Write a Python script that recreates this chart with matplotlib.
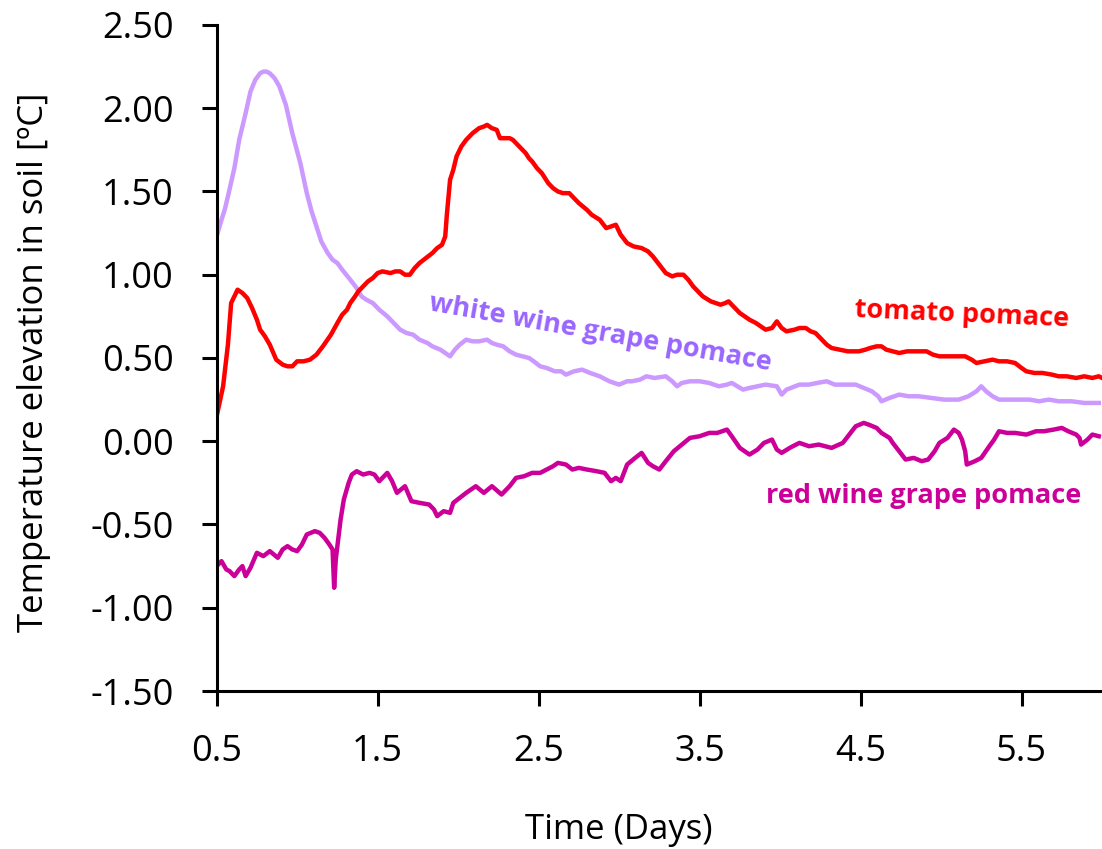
import matplotlib
matplotlib.use("Agg")
import matplotlib.pyplot as plt

plt.rcParams['font.family'] = ['Open Sans', 'DejaVu Sans']

# tomato pomace
tomato_days = [0.50, 0.54, 0.57, 0.59, 0.63, 0.66, 0.69, 0.72, 0.75, 0.77, 0.80, 0.83, 0.87, 0.91, 0.94,
               0.97, 1.00, 1.04, 1.08, 1.12, 1.16, 1.21, 1.25, 1.28, 1.31, 1.33, 1.36, 1.38, 1.41, 1.44,
               1.47, 1.50, 1.53, 1.58, 1.61, 1.64, 1.67, 1.70, 1.73, 1.76, 1.80, 1.84, 1.87, 1.90, 1.92,
               1.93, 1.95, 1.97, 1.99, 2.02, 2.05, 2.09, 2.13, 2.16, 2.18, 2.21, 2.24, 2.26, 2.29, 2.32,
               2.34, 2.36, 2.39, 2.42, 2.44, 2.46, 2.49, 2.52, 2.56, 2.59, 2.62, 2.65, 2.69, 2.72, 2.75,
               2.80, 2.83, 2.88, 2.92, 2.95, 2.98, 3.01, 3.05, 3.09, 3.14, 3.18, 3.21, 3.25, 3.29, 3.33,
               3.36, 3.40, 3.43, 3.46, 3.49, 3.52, 3.57, 3.60, 3.63, 3.66, 3.68, 3.72, 3.75, 3.78, 3.81,
               3.85, 3.88, 3.91, 3.95, 3.98, 4.01, 4.04, 4.09, 4.12, 4.16, 4.19, 4.22, 4.25, 4.29, 4.32,
               4.37, 4.42, 4.46, 4.49, 4.53, 4.56, 4.60, 4.63, 4.66, 4.70, 4.74, 4.79, 4.83, 4.88, 4.91,
               4.95, 4.99, 5.04, 5.08, 5.12, 5.15, 5.19, 5.22, 5.27, 5.32, 5.36, 5.41, 5.46, 5.50, 5.53,
               5.58, 5.63, 5.69, 5.73, 5.78, 5.84, 5.89, 5.94, 5.98, 6.00]
tomato_temp = [0.15, 0.33, 0.58, 0.83, 0.91, 0.89, 0.86, 0.80, 0.73, 0.67, 0.63, 0.58, 0.49, 0.46, 0.45,
               0.45, 0.48, 0.48, 0.49, 0.52, 0.57, 0.64, 0.71, 0.76, 0.79, 0.83, 0.87, 0.90, 0.93, 0.96,
               0.98, 1.01, 1.02, 1.01, 1.02, 1.02, 1.00, 1.00, 1.04, 1.07, 1.10, 1.13, 1.16, 1.18, 1.23,
               1.36, 1.57, 1.63, 1.71, 1.77, 1.81, 1.85, 1.88, 1.89, 1.90, 1.88, 1.87, 1.82, 1.82, 1.82,
               1.81, 1.79, 1.76, 1.73, 1.70, 1.68, 1.64, 1.61, 1.55, 1.52, 1.50, 1.49, 1.49, 1.46, 1.43,
               1.39, 1.36, 1.33, 1.28, 1.29, 1.30, 1.24, 1.19, 1.17, 1.16, 1.14, 1.11, 1.06, 1.01, 0.99,
               1.00, 1.00, 0.97, 0.93, 0.90, 0.87, 0.84, 0.83, 0.82, 0.83, 0.84, 0.80, 0.77, 0.75, 0.73,
               0.71, 0.69, 0.67, 0.68, 0.72, 0.68, 0.66, 0.67, 0.68, 0.68, 0.66, 0.65, 0.62, 0.58, 0.56,
               0.55, 0.54, 0.54, 0.54, 0.55, 0.56, 0.57, 0.57, 0.55, 0.54, 0.53, 0.54, 0.54, 0.54, 0.54,
               0.52, 0.51, 0.51, 0.51, 0.51, 0.51, 0.49, 0.47, 0.48, 0.49, 0.48, 0.48, 0.47, 0.44, 0.42,
               0.41, 0.41, 0.40, 0.39, 0.39, 0.38, 0.39, 0.38, 0.39, 0.38]

# white wine grape pomace
white_days = [0.50, 0.53, 0.55, 0.57, 0.61, 0.64, 0.68, 0.71, 0.74, 0.77, 0.79, 0.81, 0.83, 0.86, 0.89,
              0.93, 0.97, 1.02, 1.06, 1.09, 1.12, 1.15, 1.19, 1.22, 1.25, 1.28, 1.33, 1.37, 1.40, 1.43,
              1.47, 1.51, 1.56, 1.59, 1.64, 1.68, 1.72, 1.76, 1.81, 1.84, 1.89, 1.92, 1.95, 1.98, 2.01,
              2.05, 2.09, 2.13, 2.18, 2.21, 2.24, 2.28, 2.32, 2.36, 2.40, 2.44, 2.47, 2.51, 2.55, 2.60,
              2.64, 2.67, 2.72, 2.77, 2.82, 2.88, 2.94, 3.00, 3.05, 3.08, 3.13, 3.17, 3.22, 3.29, 3.33,
              3.36, 3.39, 3.44, 3.50, 3.56, 3.62, 3.67, 3.70, 3.77, 3.81, 3.86, 3.91, 3.98, 4.01, 4.04,
              4.12, 4.18, 4.23, 4.29, 4.34, 4.40, 4.47, 4.52, 4.57, 4.61, 4.63, 4.68, 4.74, 4.80, 4.86,
              4.94, 5.02, 5.11, 5.17, 5.22, 5.25, 5.28, 5.32, 5.36, 5.46, 5.55, 5.61, 5.67, 5.73, 5.81,
              5.89, 5.98]
white_temp = [1.23, 1.33, 1.39, 1.47, 1.64, 1.81, 1.97, 2.10, 2.17, 2.21, 2.22, 2.22, 2.21, 2.18, 2.13,
              2.02, 1.85, 1.67, 1.49, 1.38, 1.29, 1.20, 1.13, 1.09, 1.07, 1.03, 0.97, 0.92, 0.87, 0.85,
              0.83, 0.79, 0.75, 0.72, 0.67, 0.65, 0.64, 0.61, 0.59, 0.57, 0.55, 0.53, 0.51, 0.55, 0.58,
              0.61, 0.60, 0.60, 0.61, 0.59, 0.58, 0.57, 0.54, 0.52, 0.51, 0.50, 0.48, 0.45, 0.44, 0.42,
              0.42, 0.40, 0.42, 0.43, 0.41, 0.39, 0.36, 0.34, 0.36, 0.36, 0.37, 0.39, 0.38, 0.39, 0.36,
              0.33, 0.35, 0.36, 0.36, 0.35, 0.33, 0.34, 0.35, 0.31, 0.32, 0.33, 0.34, 0.33, 0.28, 0.31,
              0.34, 0.34, 0.35, 0.36, 0.34, 0.34, 0.34, 0.32, 0.30, 0.27, 0.24, 0.26, 0.28, 0.27, 0.27,
              0.26, 0.25, 0.25, 0.27, 0.30, 0.33, 0.30, 0.27, 0.25, 0.25, 0.25, 0.24, 0.25, 0.24, 0.24,
              0.23, 0.23]

# red wine grape pomace
red_days = [0.50, 0.53, 0.56, 0.58, 0.61, 0.64, 0.66, 0.68, 0.71, 0.75, 0.79, 0.83, 0.88, 0.91, 0.94,
            0.97, 1.00, 1.03, 1.06, 1.11, 1.14, 1.17, 1.20, 1.22, 1.23, 1.24, 1.27, 1.29, 1.32, 1.34,
            1.37, 1.41, 1.45, 1.48, 1.51, 1.56, 1.59, 1.62, 1.67, 1.71, 1.76, 1.82, 1.85, 1.87, 1.91,
            1.95, 1.97, 2.01, 2.05, 2.11, 2.16, 2.21, 2.27, 2.32, 2.36, 2.41, 2.46, 2.51, 2.55, 2.59,
            2.62, 2.67, 2.71, 2.75, 2.80, 2.86, 2.91, 2.95, 2.98, 3.01, 3.05, 3.10, 3.14, 3.18, 3.21,
            3.25, 3.29, 3.34, 3.39, 3.44, 3.50, 3.56, 3.61, 3.67, 3.70, 3.75, 3.81, 3.86, 3.90, 3.95,
            3.98, 4.01, 4.06, 4.12, 4.18, 4.24, 4.32, 4.39, 4.43, 4.47, 4.52, 4.55, 4.60, 4.63, 4.68,
            4.70, 4.74, 4.78, 4.83, 4.88, 4.92, 4.96, 4.99, 5.04, 5.08, 5.11, 5.13, 5.15, 5.16, 5.21,
            5.25, 5.30, 5.33, 5.36, 5.41, 5.46, 5.53, 5.59, 5.64, 5.70, 5.75, 5.79, 5.84, 5.86, 5.87,
            5.91, 5.94, 5.98]
red_temp = [-0.75, -0.72, -0.77, -0.78, -0.81, -0.77, -0.75, -0.81, -0.76, -0.67, -0.69, -0.66, -0.70, -0.65, -0.63,
            -0.65, -0.66, -0.62, -0.56, -0.54, -0.55, -0.58, -0.62, -0.65, -0.88, -0.71, -0.47, -0.35, -0.25, -0.20,
            -0.18, -0.20, -0.19, -0.20, -0.24, -0.19, -0.24, -0.31, -0.27, -0.36, -0.37, -0.38, -0.41, -0.45, -0.42,
            -0.43, -0.37, -0.34, -0.31, -0.27, -0.31, -0.27, -0.32, -0.27, -0.22, -0.21, -0.19, -0.19, -0.17, -0.15,
            -0.13, -0.14, -0.17, -0.16, -0.17, -0.18, -0.19, -0.24, -0.22, -0.24, -0.14, -0.10, -0.07, -0.13, -0.15,
            -0.17, -0.12, -0.06, -0.02, 0.02, 0.03, 0.05, 0.05, 0.07, 0.03, -0.04, -0.08, -0.05, -0.01, 0.01,
            -0.05, -0.07, -0.04, -0.01, -0.03, -0.02, -0.04, -0.01, 0.04, 0.09, 0.11, 0.10, 0.08, 0.05, 0.02,
            -0.01, -0.06, -0.11, -0.10, -0.12, -0.11, -0.06, -0.01, 0.02, 0.07, 0.05, 0.01, -0.06, -0.14, -0.12,
            -0.10, -0.03, 0.01, 0.06, 0.05, 0.05, 0.04, 0.06, 0.06, 0.07, 0.08, 0.06, 0.04, 0.02, -0.02,
            0.01, 0.04, 0.03]

xticks = [0.5, 1.5, 2.5, 3.5, 4.5, 5.5]
xtick_labels = ["0.5", "1.5", "2.5", "3.5", "4.5", "5.5"]
yticks = [-1.5, -1.0, -0.5, 0.0, 0.5, 1.0, 1.5, 2.0, 2.5]
ytick_labels = ["-1.50", "-1.00", "-0.50", "0.00", "0.50", "1.00", "1.50", "2.00", "2.50"]

fig = plt.figure(figsize=(11.02, 8.49), dpi=100)
ax = fig.add_axes([0.1966, 0.1861, 0.8034, 0.7845])

ax.plot(white_days, white_temp, color="#CC99FF", lw=3.2, solid_joinstyle="round")
ax.plot(tomato_days, tomato_temp, color="#FF0000", lw=3.2, solid_joinstyle="round")
ax.plot(red_days, red_temp, color="#CC0099", lw=3.2, solid_joinstyle="round")

ax.set_xlim(0.5, 6.0)
ax.set_ylim(-1.5, 2.5)
ax.set_xticks(xticks)
ax.set_xticklabels(xtick_labels)
ax.set_yticks(yticks)
ax.set_yticklabels(ytick_labels)

for s in ["top", "right"]:
    ax.spines[s].set_visible(False)
for s in ["left", "bottom"]:
    ax.spines[s].set_linewidth(2.2)
ax.tick_params(axis="both", direction="out", length=11, width=2.2, labelsize=26, colors="black")
ax.tick_params(axis="x", pad=20)
ax.tick_params(axis="y", pad=20)

ax.text(5.13, 0.76, "tomato pomace", color="#FF0000", fontsize=19.5, fontweight="bold",
        ha="center", va="center", rotation=-2.5, rotation_mode="anchor")
ax.text(2.88, 0.65, "white wine grape pomace", color="#9966FF", fontsize=19.5, fontweight="bold",
        ha="center", va="center", rotation=-10, rotation_mode="anchor")
ax.text(4.89, -0.33, "red wine grape pomace", color="#CC0099", fontsize=19.5, fontweight="bold",
        ha="center", va="center")

fig.text(0.5617, 0.0224, "Time (Days)", fontsize=25, ha="center", va="center")
fig.text(0.031, 0.5736, "Temperature elevation in soil [ºC]", fontsize=25, rotation=90,
         ha="center", va="center")

fig.savefig("out.png", dpi=100)
